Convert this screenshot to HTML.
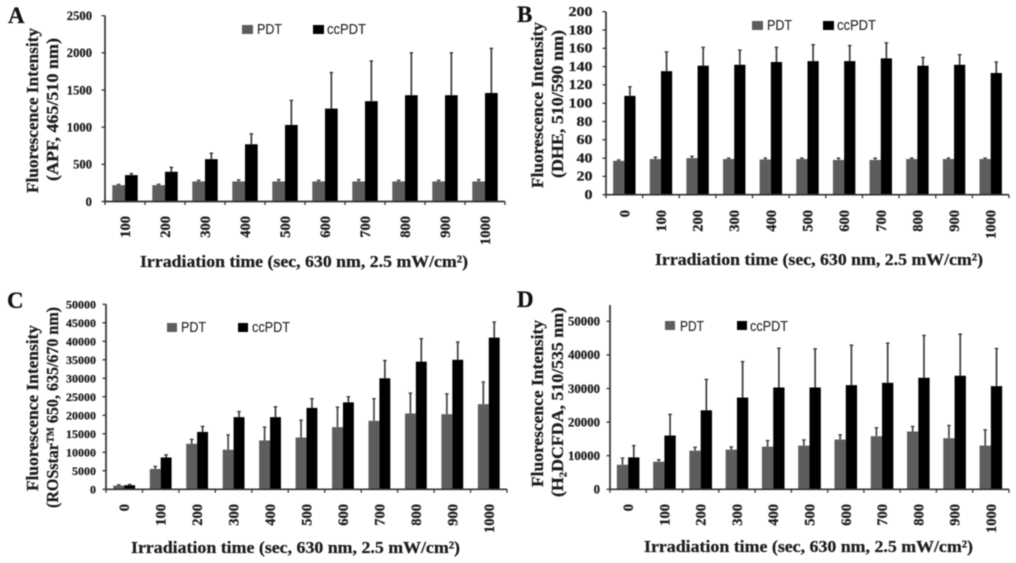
<!DOCTYPE html>
<html lang="en">
<head>
<meta charset="utf-8">
<title>Fluorescence intensity panels A-D</title>
<style>
html,body{margin:0;padding:0;background:#fff;width:1016px;height:563px;overflow:hidden}
svg{display:block;filter:blur(.6px)}
text{font-family:"Liberation Serif",serif;font-weight:bold;fill:#1c1c1c;stroke:#1c1c1c;stroke-width:.25px}
.axis-title{font-size:17px}
.letter{font-size:23px;fill:#111}
.legend-text{font-family:"Liberation Sans",sans-serif;font-weight:normal;font-size:15px;fill:#222;stroke-width:.1px}
</style>
</head>
<body>
<svg id="figure" xmlns="http://www.w3.org/2000/svg" width="1016" height="563" viewBox="0 0 1016 563">
  <defs>
    <pattern id="pdt-fill" patternUnits="userSpaceOnUse" width="2" height="2">
      <rect width="2" height="2" fill="#707070"/>
      <rect width="1" height="1" fill="#444"/>
      <rect x="1" y="1" width="1" height="1" fill="#505050"/>
    </pattern>
  </defs>
  <rect width="1016" height="563" fill="#fff"/>

  <g id="panel-a">
    <text class="letter" x="8" y="23">A</text>
    <text class="axis-title" transform="translate(38 193) rotate(-90)" textLength="165" lengthAdjust="spacingAndGlyphs">Fluorescence Intensity</text>
    <text class="axis-title" transform="translate(58 181) rotate(-90)" textLength="143" lengthAdjust="spacingAndGlyphs">(APF, 465/510 nm)</text>
    <text class="axis-title" x="140" y="267" textLength="328" lengthAdjust="spacingAndGlyphs">Irradiation time (sec, 630 nm, 2.5 mW/cm²)</text>
    <rect x="242" y="25" width="11" height="9" fill="url(#pdt-fill)"/>
    <text class="legend-text" x="257" y="34" textLength="25" lengthAdjust="spacingAndGlyphs">PDT</text>
    <rect x="313" y="25" width="11" height="9" fill="#000"/>
    <text class="legend-text" x="327" y="34" textLength="39" lengthAdjust="spacingAndGlyphs">ccPDT</text>
  </g>

  <g id="panel-b">
    <text class="letter" x="517" y="22">B</text>
    <text class="axis-title" transform="translate(543 188) rotate(-90)" textLength="166" lengthAdjust="spacingAndGlyphs">Fluorescence Intensity</text>
    <text class="axis-title" transform="translate(563 178) rotate(-90)" textLength="148" lengthAdjust="spacingAndGlyphs">(DHE, 510/590 nm)</text>
    <text class="axis-title" x="655" y="265" textLength="328" lengthAdjust="spacingAndGlyphs">Irradiation time (sec, 630 nm, 2.5 mW/cm²)</text>
    <rect x="752" y="21" width="11" height="9" fill="url(#pdt-fill)"/>
    <text class="legend-text" x="767" y="30" textLength="25" lengthAdjust="spacingAndGlyphs">PDT</text>
    <rect x="823" y="21" width="11" height="9" fill="#000"/>
    <text class="legend-text" x="837" y="30" textLength="39" lengthAdjust="spacingAndGlyphs">ccPDT</text>
  </g>

  <g id="panel-c">
    <text class="letter" x="7" y="308">C</text>
    <text class="axis-title" transform="translate(38 491) rotate(-90)" textLength="166" lengthAdjust="spacingAndGlyphs">Fluorescence Intensity</text>
    <text class="axis-title" transform="translate(58 508) rotate(-90)" textLength="201" lengthAdjust="spacingAndGlyphs">(ROSstar™ 650, 635/670 nm)</text>
    <text class="axis-title" x="131" y="553" textLength="329" lengthAdjust="spacingAndGlyphs">Irradiation time (sec, 630 nm, 2.5 mW/cm²)</text>
    <rect x="167" y="323" width="10" height="9" fill="url(#pdt-fill)"/>
    <text class="legend-text" x="181" y="332" textLength="25" lengthAdjust="spacingAndGlyphs">PDT</text>
    <rect x="238" y="323" width="10" height="9" fill="#000"/>
    <text class="legend-text" x="252" y="332" textLength="38" lengthAdjust="spacingAndGlyphs">ccPDT</text>
  </g>

  <g id="panel-d">
    <text class="letter" x="517" y="307">D</text>
    <text class="axis-title" transform="translate(543 487) rotate(-90)" textLength="167" lengthAdjust="spacingAndGlyphs">Fluorescence Intensity</text>
    <text class="axis-title" transform="translate(563 497) rotate(-90)" textLength="190" lengthAdjust="spacingAndGlyphs">(H₂DCFDA, 510/535 nm)</text>
    <text class="axis-title" x="644" y="552" textLength="329" lengthAdjust="spacingAndGlyphs">Irradiation time (sec, 630 nm, 2.5 mW/cm²)</text>
    <rect x="665" y="321" width="10" height="9" fill="url(#pdt-fill)"/>
    <text class="legend-text" x="680" y="331" textLength="24" lengthAdjust="spacingAndGlyphs">PDT</text>
    <rect x="737" y="321" width="10" height="9" fill="#000"/>
    <text class="legend-text" x="750" y="331" textLength="38" lengthAdjust="spacingAndGlyphs">ccPDT</text>
  </g>
</svg>

<script>
// Data
const categoriesA = [100, 200, 300, 400, 500, 600, 700, 800, 900, 1000];
const categoriesBCD = [0, 100, 200, 300, 400, 500, 600, 700, 800, 900, 1000];

const pdtA = [220, 220, 270, 270, 270, 270, 270, 270, 270, 270];
const pdtErrTopA = [230, 232, 285, 290, 295, 285, 295, 285, 285, 295];
const ccA = [355, 400, 570, 770, 1030, 1250, 1350, 1430, 1430, 1460];
const ccErrTopA = [375, 460, 650, 910, 1360, 1735, 1890, 2000, 2000, 2060];
const yTicksA = [0, 500, 1000, 1500, 2000, 2500];

const pdtB = [37, 39, 40, 39, 38.5, 39, 38, 38, 39, 39, 39];
const pdtErrTopB = [38, 41, 42, 40, 40, 40, 40, 40, 40, 40, 40];
const ccB = [108, 135, 141, 142, 145, 146, 146, 149, 141, 142, 133];
const ccErrTopB = [118, 156, 161, 158, 161, 164, 163, 166, 150, 153, 145];
const yTicksB = [0, 20, 40, 60, 80, 100, 120, 140, 160, 180, 200];

const pdtC = [1000, 5500, 12300, 10700, 13200, 14000, 16800, 18500, 20500, 20300, 23000];
const pdtErrTopC = [1200, 6200, 13500, 14700, 16800, 18700, 22200, 24500, 26000, 25800, 29000];
const ccC = [1100, 8600, 15500, 19500, 19500, 22000, 23500, 30000, 34500, 35000, 41000];
const ccErrTopC = [1300, 9300, 17000, 21000, 22300, 24500, 25000, 34800, 40700, 39800, 45200];
const yTicksC = [0, 5000, 10000, 15000, 20000, 25000, 30000, 35000, 40000, 45000, 50000];

const pdtD = [7300, 8200, 11500, 11800, 12700, 13000, 14800, 15800, 17200, 15200, 13000];
const pdtErrTopD = [9300, 8800, 12500, 12600, 14500, 14700, 16200, 18300, 18700, 19000, 17700];
const ccD = [9500, 16000, 23500, 27300, 30300, 30300, 31000, 31700, 33200, 33800, 30700];
const ccErrTopD = [13000, 22300, 32700, 38000, 42000, 41800, 42900, 43500, 45800, 46200, 41900];
const yTicksD = [0, 10000, 20000, 30000, 40000, 50000];

const NS = 'http://www.w3.org/2000/svg';

function make(tag, parent, attrs) {
  const node = document.createElementNS(NS, tag);
  for (const k in attrs) node.setAttribute(k, attrs[k]);
  parent.appendChild(node);
  return node;
}

function drawPanel(cfg) {
  const root = document.getElementById(cfg.id);
  const band = (cfg.xRight - cfg.xLeft) / cfg.categories.length;
  const xCenter = i => cfg.xLeft + band * (i + 0.5);
  const y = v => cfg.yBottom - (v - cfg.yMin) / (cfg.yMax - cfg.yMin) * (cfg.yBottom - cfg.yTop);
  const w = cfg.barWidth;

  cfg.categories.forEach((cat, i) => {
    const c = xCenter(i);

    const pdtErr = make('line', root, {x1: c - w / 2, x2: c - w / 2, y1: y(cfg.pdt[i]), y2: y(cfg.pdtTop[i]), stroke: '#444', 'stroke-width': 1.7});
    
    
    const pdtCap = make('line', root, {x1: c - w / 2 - 1.8, x2: c - w / 2 + 1.8, y1: y(cfg.pdtTop[i]), y2: y(cfg.pdtTop[i]), stroke: '#444', 'stroke-width': 1.4});
    
    

    const ccErr = make('line', root, {x1: c + w / 2, x2: c + w / 2, y1: y(cfg.cc[i]), y2: y(cfg.ccTop[i]), stroke: '#3c3c3c', 'stroke-width': 1.7});
    
    
    const ccCap = make('line', root, {x1: c + w / 2 - 1.8, x2: c + w / 2 + 1.8, y1: y(cfg.ccTop[i]), y2: y(cfg.ccTop[i]), stroke: '#3c3c3c', 'stroke-width': 1.4});
    
    

    const pdtBar = make('rect', root, {x: c - w, y: y(cfg.pdt[i]), width: w, height: y(cfg.yMin) - y(cfg.pdt[i]), fill: 'url(#pdt-fill)'});
    
    

    const ccBar = make('rect', root, {x: c, y: y(cfg.cc[i]), width: w, height: y(cfg.yMin) - y(cfg.cc[i]), fill: '#000'});
    
    

    const label = make('text', root, {
      transform: 'translate(' + (c + 5) + ' ' + cfg.xLabelTop + ') rotate(-90)',
      'text-anchor': 'end',
      'font-size': 14.5
    });
    
    
    label.textContent = String(cat);
  });

  const yAxis = make('line', root, {x1: cfg.xLeft, x2: cfg.xLeft, y1: cfg.axisTop, y2: y(cfg.yMin) + 1, stroke: '#333', 'stroke-width': 1.7});
  
  

  const xAxis = make('line', root, {x1: cfg.xLeft, x2: cfg.xRight, y1: y(cfg.yMin), y2: y(cfg.yMin), stroke: '#333', 'stroke-width': 1.7});
  
  

  for (let i = 0; i <= cfg.categories.length; i++) {
    const px = cfg.xLeft + band * i;
    const tick = make('line', root, {x1: px, x2: px, y1: y(cfg.yMin), y2: y(cfg.yMin) + 3.5, stroke: '#333', 'stroke-width': 1.3});
    
    
  }

  cfg.yTicks.forEach(v => {
    const py = y(v);
    const tick = make('line', root, {x1: cfg.xLeft - 3.5, x2: cfg.xLeft, y1: py, y2: py, stroke: '#333', 'stroke-width': 1.3});
    
    

    const s = String(v);
    const label = make('text', root, {
      x: cfg.yLabelRight,
      y: py + 4.3,
      'text-anchor': 'end',
      'font-size': cfg.yFont,
      textLength: s.length * cfg.yDigit,
      lengthAdjust: 'spacingAndGlyphs'
    });
    
    
    label.textContent = s;
  });
}

drawPanel({id: 'panel-a', categories: categoriesA, pdt: pdtA, pdtTop: pdtErrTopA, cc: ccA, ccTop: ccErrTopA, yTicks: yTicksA,
  yMin: 0, yMax: 2500, xLeft: 105, xRight: 505, yBottom: 201.5, yTop: 15.7, axisTop: 15.7, barWidth: 12.7, xLabelTop: 216, yLabelRight: 92, yFont: 12.5, yDigit: 6.3});
drawPanel({id: 'panel-b', categories: categoriesBCD, pdt: pdtB, pdtTop: pdtErrTopB, cc: ccB, ccTop: ccErrTopB, yTicks: yTicksB,
  yMin: 0, yMax: 200, xLeft: 606, xRight: 1009, yBottom: 194.7, yTop: 11.7, axisTop: 11.7, barWidth: 11.2, xLabelTop: 210, yLabelRight: 592.5, yFont: 13.5, yDigit: 8});
drawPanel({id: 'panel-c', categories: categoriesBCD, pdt: pdtC, pdtTop: pdtErrTopC, cc: ccC, ccTop: ccErrTopC, yTicks: yTicksC,
  yMin: 0, yMax: 50000, xLeft: 106, xRight: 507, yBottom: 489.3, yTop: 304.3, axisTop: 304.3, barWidth: 10.9, xLabelTop: 504, yLabelRight: 96, yFont: 12, yDigit: 6});
drawPanel({id: 'panel-d', categories: categoriesBCD, pdt: pdtD, pdtTop: pdtErrTopD, cc: ccD, ccTop: ccErrTopD, yTicks: yTicksD,
  yMin: 0, yMax: 50000, xLeft: 610, xRight: 1009, yBottom: 489.3, yTop: 321.3, axisTop: 305, barWidth: 11.3, xLabelTop: 504, yLabelRight: 600, yFont: 12.5, yDigit: 6.4});
</script>
</body>
</html>
